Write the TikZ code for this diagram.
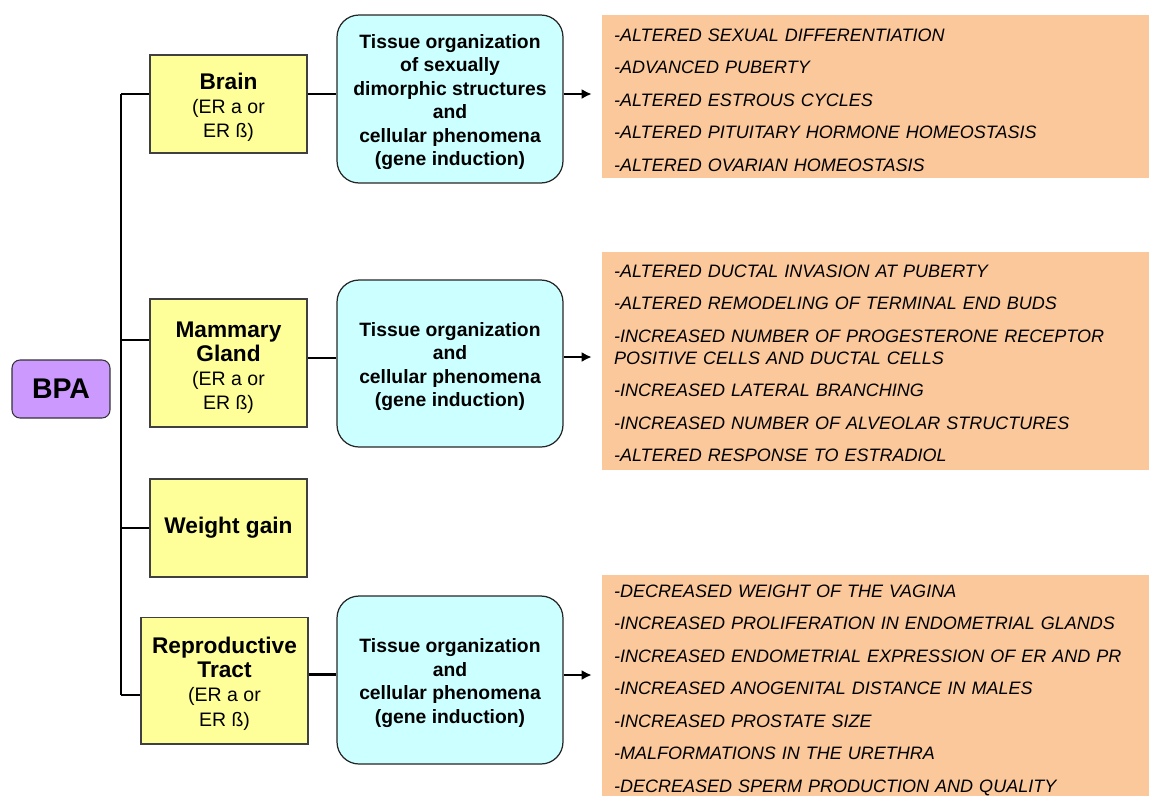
\documentclass[tikz,border=0pt]{standalone}
\usepackage{fontspec}
\setmainfont{Liberation Sans}
\usepackage{tikz}
\usetikzlibrary{calc,arrows,arrows.meta,positioning}
\definecolor{bpapurple}{HTML}{CC99FF}
\definecolor{organyellow}{HTML}{FFFF99}
\definecolor{tissuecyan}{HTML}{CCFFFF}
\definecolor{effectorange}{HTML}{FBC89C}
\newcommand{\organtitle}[1]{{\fontsize{12.9}{14.8}\selectfont\bfseries #1}}
\newcommand{\topstrut}[1]{\rule{0pt}{#1}}
\tikzstyle{agent} = [rectangle, rounded corners=0.16cm, draw=black!80, line width=0.6pt, fill=bpapurple,
    minimum width=1.96cm, minimum height=1.16cm, font=\fontsize{16.2}{19}\selectfont\bfseries]
\tikzstyle{organ} = [rectangle, draw=black!75, line width=0.6pt, fill=organyellow, align=center,
    minimum width=3.14cm, inner sep=0pt, font=\fontsize{11.1}{13.7}\selectfont]
\tikzstyle{tissue} = [rectangle, rounded corners=0.44cm, draw=black!85, line width=0.7pt, fill=tissuecyan,
    align=center, minimum width=4.52cm, inner sep=0pt, font=\fontsize{11}{13.4}\selectfont\bfseries]
\tikzstyle{effects} = [rectangle, fill=effectorange, minimum width=10.94cm, inner xsep=0.24cm, inner ysep=0pt,
    text width=10.46cm, align=left, font=\fontsize{10.25}{12.5}\selectfont\itshape]
\tikzstyle{line} = [draw, line width=1.4pt, -{Latex[length=0.2cm,width=0.2cm]}]
\tikzstyle{branch} = [draw, line width=1.4pt]

\begin{document}
\begin{tikzpicture}[x=0.02cm,y=-0.02cm]
    \useasboundingbox (0,0) rectangle (1149,796);
    % Place nodes
    \node [agent] (bpa) at (61,389) {BPA};

    \node [organ, minimum height=1.96cm] (brain) at (228.5,104) {\topstrut{13pt}\organtitle{Brain}\\(ER a or\\ER ß)};
    \node [organ, minimum height=2.56cm] (mammary) at (228.5,363) {\topstrut{14pt}\organtitle{Mammary}\\\organtitle{Gland}\\(ER a or\\ER ß)};
    \node [organ, minimum height=1.96cm] (weight) at (228.5,528) {\organtitle{Weight gain}};
    \node [organ, minimum width=3.34cm, minimum height=2.54cm] (repro) at (224.5,680.5) {\topstrut{13pt}\organtitle{Reproductive}\\\organtitle{Tract}\\(ER a or\\ER ß)};

    \node [tissue, minimum height=3.36cm] (brainT) at (450,99) {\topstrut{11.5pt}Tissue organization\\of sexually\\dimorphic structures\\and\\cellular phenomena\\(gene induction)};
    \node [tissue, minimum height=3.34cm] (mammaryT) at (450,363.5) {\topstrut{11.5pt}Tissue organization\\and\\cellular phenomena\\(gene induction)};
    \node [tissue, minimum height=3.36cm] (reproT) at (450,680) {\topstrut{11.5pt}Tissue organization\\and\\cellular phenomena\\(gene induction)};

    \node [effects, minimum height=3.26cm] (brainE) at (875.5,96.5) {\topstrut{11pt}-ALTERED SEXUAL DIFFERENTIATION\\[6pt]
        -ADVANCED PUBERTY\\[6pt]
        -ALTERED ESTROUS CYCLES\\[6pt]
        -ALTERED PITUITARY HORMONE HOMEOSTASIS\\[6pt]
        -ALTERED OVARIAN HOMEOSTASIS};
    \node [effects, minimum height=4.36cm] (mammaryE) at (875.5,361) {\topstrut{10pt}-ALTERED DUCTAL INVASION AT PUBERTY\\[6pt]
        -ALTERED REMODELING OF TERMINAL END BUDS\\[6pt]
        -INCREASED NUMBER OF PROGESTERONE RECEPTOR\\
        POSITIVE CELLS AND DUCTAL CELLS\\[6pt]
        -INCREASED LATERAL BRANCHING\\[6pt]
        -INCREASED NUMBER OF ALVEOLAR STRUCTURES\\[6pt]
        -ALTERED RESPONSE TO ESTRADIOL};
    \node [effects, minimum height=4.42cm] (reproE) at (875.5,685.5) {\topstrut{12.5pt}-DECREASED WEIGHT OF THE VAGINA\\[6pt]
        -INCREASED PROLIFERATION IN ENDOMETRIAL GLANDS\\[6pt]
        -INCREASED ENDOMETRIAL EXPRESSION OF ER AND PR\\[6pt]
        -INCREASED ANOGENITAL DISTANCE IN MALES\\[6pt]
        -INCREASED PROSTATE SIZE\\[6pt]
        -MALFORMATIONS IN THE URETHRA\\[6pt]
        -DECREASED SPERM PRODUCTION AND QUALITY};

    \coordinate (j1) at (121,94);
    \coordinate (j2) at (121,340);
    \coordinate (j3) at (121,528);
    \coordinate (j4) at (121,695);
    \coordinate (m1) at ([yshift=0.1cm]mammary.east);
    \coordinate (m2) at ([yshift=0.12cm]repro.east);
    \coordinate (a1) at ([yshift=0.1cm]brainT.east);
    \coordinate (a2) at ([yshift=0.13cm]mammaryT.east);
    \coordinate (a3) at ([yshift=0.1cm]reproT.east);

    % Draw edges
    \path [branch] (j1) -- (j4);
    \path [branch] (j1) -- (j1 -| brain.west);
    \path [branch] (j2) -- (j2 -| mammary.west);
    \path [branch] (j3) -- (j3 -| weight.west);
    \path [branch] (j4) -- (j4 -| repro.west);

    \path [branch] (brain.east |- j1) -- (brainT.west |- j1);
    \path [branch] (m1) -- (m1 -| mammaryT.west);
    \path [branch] (m2) -- (m2 -| reproT.west);

    \path [line,shorten >=0.2cm] (a1) -- (a1 -| brainE.west);
    \path [line,shorten >=0.2cm] (a2) -- (a2 -| mammaryE.west);
    \path [line,shorten >=0.2cm] (a3) -- (a3 -| reproE.west);

\end{tikzpicture}
\end{document}
